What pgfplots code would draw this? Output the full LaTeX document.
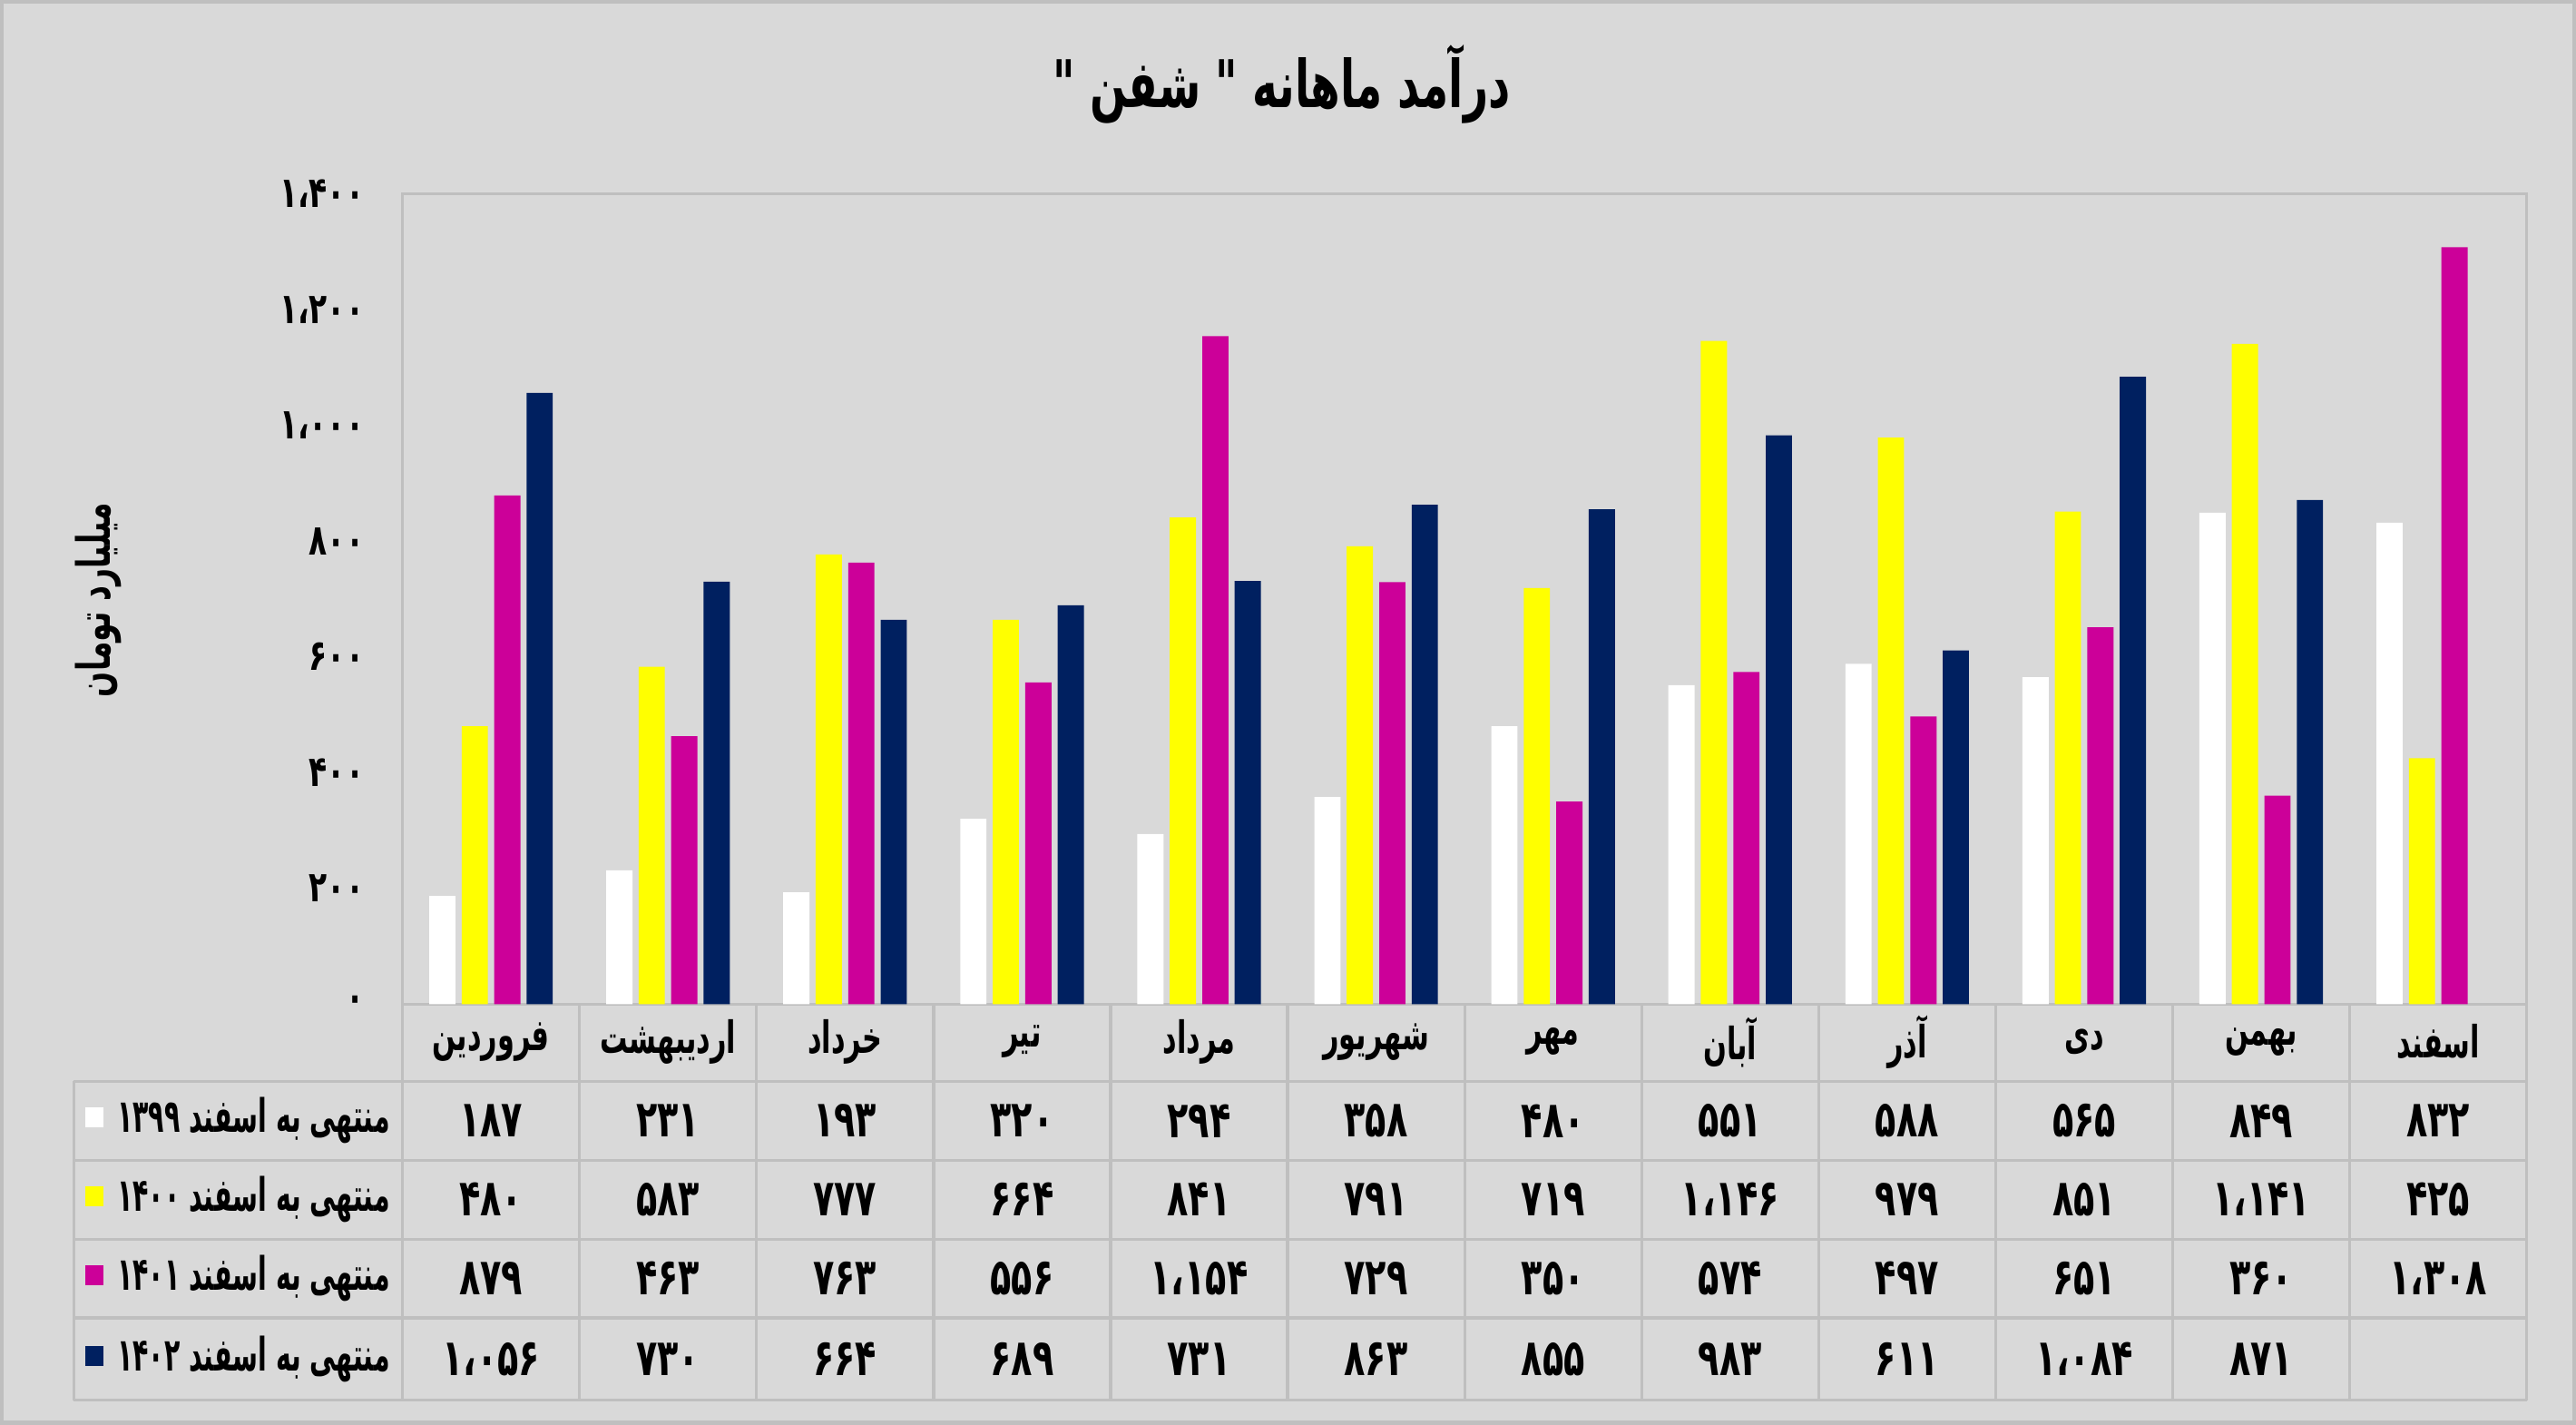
\documentclass[border=0pt]{standalone}
\usepackage{pgfplots}
\pgfplotsset{compat=1.18}
\usepackage{fontspec}
\TeXXeTstate=1
\newfontfamily\faTitle[Script=Arabic,FakeStretch=0.65]{DejaVu Sans}
\newfontfamily\faTick[Script=Arabic,FakeStretch=0.70]{DejaVu Sans}
\newfontfamily\faMon[Script=Arabic,FakeStretch=0.62]{DejaVu Sans}
\newfontfamily\faRow[Script=Arabic,FakeStretch=0.56]{DejaVu Sans}
\newfontfamily\faCell[Script=Arabic,FakeStretch=0.68]{DejaVu Sans}
\definecolor{bgcol}{HTML}{D9D9D9}
\definecolor{glcol}{HTML}{BFBFBF}
\definecolor{colY}{HTML}{FFFF00}
\definecolor{colM}{HTML}{CC0099}
\definecolor{colN}{HTML}{002060}
\begin{document}
\begin{tikzpicture}[x=1pt,y=1pt]
\useasboundingbox (0,0) rectangle (784,433.5);
\fill[bgcol] (0,0) rectangle (784,433.5);
\draw[glcol,line width=1.2pt] (0.6,0.6) rectangle (783.4,432.9);
\begin{axis}[
  scale only axis, width=646.5pt, height=246.5pt,
  at={(122.5pt,128pt)}, anchor=south west,
  xmin=0.5, xmax=12.5, ymin=0, ymax=1400,
  axis line style={glcol,line width=0.9pt},
  xtick=\empty,
  ytick={0,200,400,600,800,1000,1200,1400},
  yticklabels={۰,۲۰۰,۴۰۰,۶۰۰,۸۰۰,۱،۰۰۰,۱،۲۰۰,۱،۴۰۰},
  yticklabel style={font=\faTick\bfseries\fontsize{13}{13}\selectfont, anchor=east, inner sep=0pt, xshift=-11.5pt},
  major tick length=0pt,
  clip=false,
]
\addplot[ybar, bar width=0.148, bar shift=-0.275, fill=white, draw=none] coordinates {
 (1,187) (2,231) (3,193) (4,320) (5,294) (6,358) (7,480) (8,551) (9,588) (10,565) (11,849) (12,832)};
\addplot[ybar, bar width=0.148, bar shift=-0.092, fill=colY, draw=none] coordinates {
 (1,480) (2,583) (3,777) (4,664) (5,841) (6,791) (7,719) (8,1146) (9,979) (10,851) (11,1141) (12,425)};
\addplot[ybar, bar width=0.148, bar shift=0.092, fill=colM, draw=none] coordinates {
 (1,879) (2,463) (3,763) (4,556) (5,1154) (6,729) (7,350) (8,574) (9,497) (10,651) (11,360) (12,1308)};
\addplot[ybar, bar width=0.148, bar shift=0.275, fill=colN, draw=none] coordinates {
 (1,1056) (2,730) (3,664) (4,689) (5,731) (6,863) (7,855) (8,983) (9,611) (10,1084) (11,871)};
\end{axis}
% title and y label
\node[font=\faTitle\bfseries\fontsize{20}{20}\selectfont] at (390,408) {\beginR درآمد ماهانه " شفن "\endR};
\node[font=\faTitle\bfseries\fontsize{14}{14}\selectfont, rotate=90] at (30,251) {\beginR میلیارد تومان\endR};
% table grid
\begin{scope}[glcol, line width=0.9pt]
\foreach \yy in {104.5,80.5,56.5,32.5,7.5} \draw (22.5,\yy) -- (769,\yy);
\draw (22.5,104.5) -- (22.5,7.5);
\foreach \k in {0,...,12} \draw ({122.5+\k*53.875},128) -- ({122.5+\k*53.875},7.5);
\end{scope}
% month names
\foreach \m [count=\i] in {فروردین,اردیبهشت,خرداد,تیر,مرداد,شهریور,مهر,آبان,آذر,دی,بهمن,اسفند}
  \node[font=\faMon\bfseries\fontsize{13.5}{13.5}\selectfont] at ({122.5+(\i-0.5)*53.875},116.5) {\beginR\m\endR};
% row headers
\foreach \yr/\yy/\cc in {۱۳۹۹/92.5/white,۱۴۰۰/68.5/colY,۱۴۰۱/44.5/colM,۱۴۰۲/20/colN} {
  \node[font=\faRow\bfseries\fontsize{14}{14}\selectfont, anchor=east, inner sep=0pt] at (119,\yy) {\beginR منتهی به اسفند \beginL\yr\endL\endR};
  \fill[\cc] (26,\yy-2) rectangle (31.5,\yy+4);
}
% values
\tikzset{cell/.style={font=\faCell\bfseries\fontsize{15.5}{15.5}\selectfont}}
\foreach \v [count=\i] in {۱۸۷,۲۳۱,۱۹۳,۳۲۰,۲۹۴,۳۵۸,۴۸۰,۵۵۱,۵۸۸,۵۶۵,۸۴۹,۸۳۲}
  \node[cell] at ({122.5+(\i-0.5)*53.875},92.5) {\v};
\foreach \v [count=\i] in {۴۸۰,۵۸۳,۷۷۷,۶۶۴,۸۴۱,۷۹۱,۷۱۹,۱،۱۴۶,۹۷۹,۸۵۱,۱،۱۴۱,۴۲۵}
  \node[cell] at ({122.5+(\i-0.5)*53.875},68.5) {\v};
\foreach \v [count=\i] in {۸۷۹,۴۶۳,۷۶۳,۵۵۶,۱،۱۵۴,۷۲۹,۳۵۰,۵۷۴,۴۹۷,۶۵۱,۳۶۰,۱،۳۰۸}
  \node[cell] at ({122.5+(\i-0.5)*53.875},44.5) {\v};
\foreach \v [count=\i] in {۱،۰۵۶,۷۳۰,۶۶۴,۶۸۹,۷۳۱,۸۶۳,۸۵۵,۹۸۳,۶۱۱,۱،۰۸۴,۸۷۱}
  \node[cell] at ({122.5+(\i-0.5)*53.875},20) {\v};
\end{tikzpicture}
\end{document}
